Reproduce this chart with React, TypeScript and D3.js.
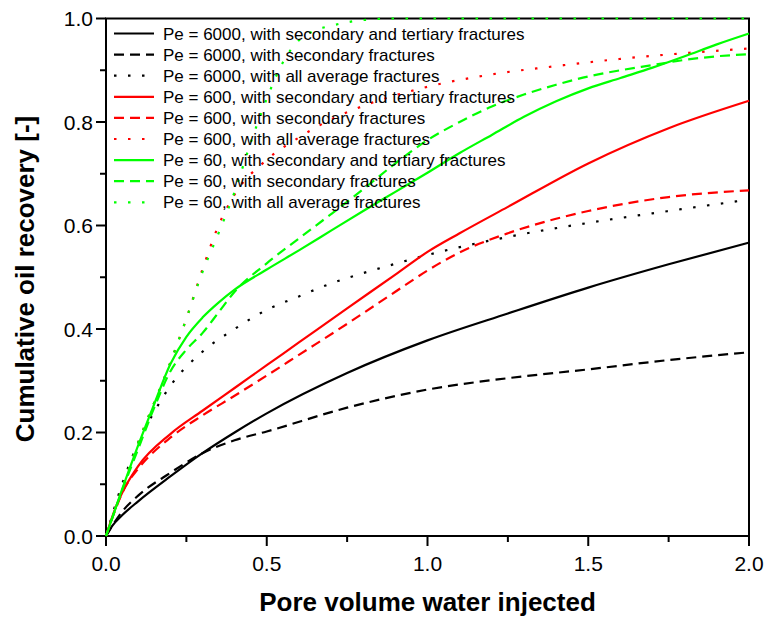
import React from "react";
import * as d3 from "d3";

// ---- data (x = pore volume injected, y = cumulative oil recovery) ----
const pe6000SecTert: [number, number][] = [
  [0, 0], [0.02, 0.02], [0.05, 0.04], [0.1, 0.067], [0.2, 0.115], [0.3, 0.16], [0.4, 0.2],
  [0.5, 0.237], [0.75, 0.315], [1.0, 0.378], [1.25, 0.43], [1.5, 0.48], [1.75, 0.525], [2.0, 0.567],
];
const pe6000Sec: [number, number][] = [
  [0, 0], [0.05, 0.047], [0.1, 0.078], [0.2, 0.122], [0.3, 0.16], [0.4, 0.185], [0.5, 0.202],
  [0.75, 0.248], [1.0, 0.283], [1.25, 0.305], [1.5, 0.322], [1.75, 0.34], [2.0, 0.355],
];
const pe6000Avg: [number, number][] = [
  [0, 0], [0.05, 0.1], [0.1, 0.18], [0.15, 0.24], [0.2, 0.29], [0.3, 0.356], [0.4, 0.4],
  [0.5, 0.437], [0.6, 0.463], [0.7, 0.488], [0.8, 0.508], [0.9, 0.526], [1.0, 0.543],
  [1.25, 0.578], [1.5, 0.605], [1.75, 0.628], [2.0, 0.65],
];
const pe600SecTert: [number, number][] = [
  [0, 0], [0.03, 0.055], [0.06, 0.095], [0.1, 0.135], [0.2, 0.197], [0.3, 0.242], [0.4, 0.286],
  [0.5, 0.33], [0.6, 0.374], [0.75, 0.44], [0.9, 0.505], [1.0, 0.549], [1.1, 0.585],
  [1.25, 0.636], [1.5, 0.72], [1.75, 0.788], [2.0, 0.841],
];
const pe600Sec: [number, number][] = [
  [0, 0], [0.06, 0.095], [0.1, 0.13], [0.2, 0.19], [0.3, 0.233], [0.4, 0.271], [0.5, 0.31],
  [0.6, 0.35], [0.75, 0.41], [0.9, 0.472], [1.0, 0.513], [1.1, 0.548], [1.25, 0.585],
  [1.4, 0.613], [1.5, 0.628], [1.75, 0.655], [2.0, 0.668],
];
const pe600Avg: [number, number][] = [
  [0, 0], [0.1, 0.18], [0.2, 0.335], [0.25, 0.42], [0.3, 0.515], [0.35, 0.6], [0.4, 0.66],
  [0.5, 0.727], [0.6, 0.77], [0.7, 0.805], [0.8, 0.831], [1.0, 0.868], [1.2, 0.892],
  [1.4, 0.908], [1.6, 0.922], [1.8, 0.933], [2.0, 0.942],
];
const pe60SecTert: [number, number][] = [
  [0, 0], [0.05, 0.09], [0.1, 0.175], [0.15, 0.255], [0.2, 0.332], [0.25, 0.385], [0.3, 0.422],
  [0.35, 0.451], [0.4, 0.476], [0.5, 0.515], [0.6, 0.552], [0.7, 0.59], [0.8, 0.628],
  [0.9, 0.665], [1.0, 0.702], [1.1, 0.74], [1.2, 0.775], [1.3, 0.81], [1.4, 0.84],
  [1.5, 0.865], [1.6, 0.885], [1.7, 0.905], [1.8, 0.927], [1.9, 0.95], [2.0, 0.971],
];
const pe60Sec: [number, number][] = [
  [0, 0], [0.05, 0.088], [0.1, 0.168], [0.15, 0.248], [0.2, 0.318], [0.25, 0.36], [0.3, 0.392],
  [0.35, 0.432], [0.4, 0.472], [0.5, 0.527], [0.6, 0.575], [0.7, 0.622], [0.8, 0.67],
  [0.9, 0.72], [1.0, 0.765], [1.1, 0.8], [1.2, 0.83], [1.3, 0.853], [1.4, 0.872],
  [1.5, 0.888], [1.6, 0.9], [1.7, 0.91], [1.8, 0.92], [1.9, 0.927], [2.0, 0.931],
];
const pe60Avg: [number, number][] = [
  [0, 0], [0.1, 0.18], [0.2, 0.335], [0.25, 0.42], [0.3, 0.51], [0.35, 0.585], [0.4, 0.665],
  [0.45, 0.76], [0.5, 0.845], [0.55, 0.915], [0.6, 0.958], [0.65, 0.977], [0.7, 0.986],
  [0.8, 0.997], [0.9, 1.0], [2.0, 1.0],
];

const seriesLabels = [
  "Pe = 6000, with secondary and tertiary fractures",
  "Pe = 6000, with secondary fractures",
  "Pe = 6000, with all average fractures",
  "Pe = 600, with secondary and tertiary fractures",
  "Pe = 600, with secondary fractures",
  "Pe = 600, with all average fractures",
  "Pe = 60, with secondary and tertiary fractures",
  "Pe = 60, with secondary fractures",
  "Pe = 60, with all average fractures",
];
const seriesData = [
  pe6000SecTert, pe6000Sec, pe6000Avg,
  pe600SecTert, pe600Sec, pe600Avg,
  pe60SecTert, pe60Sec, pe60Avg,
];
const seriesColors = ["#000000", "#000000", "#000000", "#ff0000", "#ff0000", "#ff0000", "#00ff00", "#00ff00", "#00ff00"];
const seriesDash = ["", "10,6", "2.5,11.5", "", "10,6", "2.5,11.5", "", "10,6", "2.5,11.5"];

const xMajorTicks = [0, 0.5, 1.0, 1.5, 2.0];
const xMinorTicks = [0.25, 0.75, 1.25, 1.75];
const yMajorTicks = [0, 0.2, 0.4, 0.6, 0.8, 1.0];
const yMinorTicks = [0.1, 0.3, 0.5, 0.7, 0.9];

const xTitle = "Pore volume water injected";
const yTitle = "Cumulative oil recovery [-]";

const W = 767;
const H = 618;
const left = 106;
const right = 749;
const top = 18.5;
const bottom = 536;

export default function App() {
  const x = d3.scaleLinear().domain([0, 2]).range([left, right]);
  const y = d3.scaleLinear().domain([0, 1]).range([bottom, top]);
  const line = d3
    .line<[number, number]>()
    .x((d) => x(d[0]))
    .y((d) => y(d[1]))
    .curve(d3.curveMonotoneX);

  const font = "'Liberation Sans', Arimo, Arial, sans-serif";
  const axisW = 2;

  return (
    <div style={{ position: "absolute", left: 0, top: 0 }}>
      <svg width={W} height={H} style={{ display: "block", background: "#fff" }} fontFamily={font}>
        <rect x={0} y={0} width={W} height={H} fill="#fff" />
        {/* frame */}
        <rect x={left} y={top} width={right - left} height={bottom - top} fill="none" stroke="#000" strokeWidth={axisW} />
        {/* x ticks */}
        {xMajorTicks.map((t) => (
          <g key={"xM" + t}>
            <line x1={x(t)} x2={x(t)} y1={bottom} y2={bottom + 10} stroke="#000" strokeWidth={axisW} />
            <text x={x(t)} y={571} fontSize={21} textAnchor="middle" fill="#000">
              {d3.format(".1f")(t)}
            </text>
          </g>
        ))}
        {xMinorTicks.map((t) => (
          <line key={"xm" + t} x1={x(t)} x2={x(t)} y1={bottom} y2={bottom + 6} stroke="#000" strokeWidth={axisW} />
        ))}
        {/* y ticks */}
        {yMajorTicks.map((t) => (
          <g key={"yM" + t}>
            <line x1={left - 10} x2={left} y1={y(t)} y2={y(t)} stroke="#000" strokeWidth={axisW} />
            <text x={93} y={y(t) + 7.5} fontSize={21} textAnchor="end" fill="#000">
              {d3.format(".1f")(t)}
            </text>
          </g>
        ))}
        {yMinorTicks.map((t) => (
          <line key={"ym" + t} x1={left - 6} x2={left} y1={y(t)} y2={y(t)} stroke="#000" strokeWidth={axisW} />
        ))}
        {/* curves */}
        {seriesData.map((d, i) => (
          <path
            key={"s" + i}
            d={line(d) || ""}
            fill="none"
            stroke={seriesColors[i]}
            strokeWidth={2.2}
            strokeDasharray={seriesDash[i] || undefined}
          />
        ))}
        {/* legend */}
        {seriesLabels.map((lab, i) => {
          const ly = 33.5 + i * 21.1;
          return (
            <g key={"l" + i}>
              <line x1={114} x2={154} y1={ly} y2={ly} stroke={seriesColors[i]} strokeWidth={2.2}
                strokeDasharray={seriesDash[i] || undefined} />
              <text x={163} y={ly + 6} fontSize={17} fill="#000">{lab}</text>
            </g>
          );
        })}
        {/* axis titles */}
        <text x={(left + right) / 2 + 0} y={611} fontSize={26} fontWeight="bold" textAnchor="middle" fill="#000">
          {xTitle}
        </text>
        <text
          transform={`translate(34, 279) rotate(-90)`}
          fontSize={26}
          fontWeight="bold"
          textAnchor="middle"
          fill="#000"
        >
          {yTitle}
        </text>
      </svg>
    </div>
  );
}
